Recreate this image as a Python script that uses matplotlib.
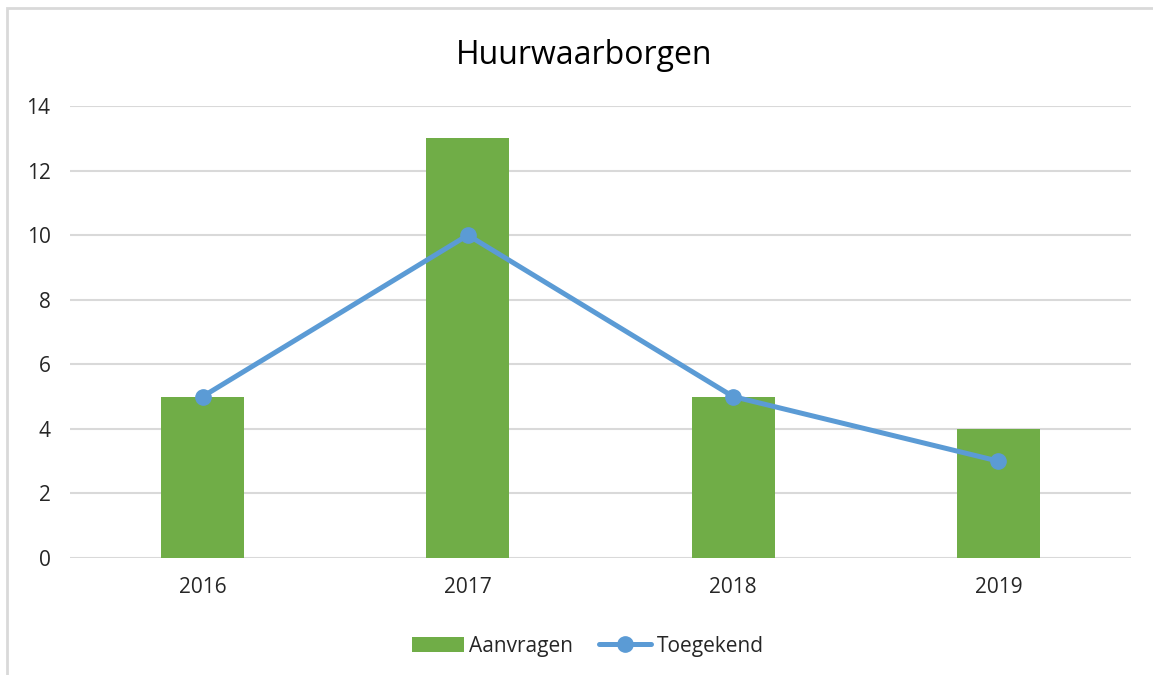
import matplotlib
matplotlib.use("Agg")
import matplotlib.pyplot as plt
from matplotlib.patches import Rectangle

plt.rcParams['font.family'] = ['Open Sans', 'DejaVu Sans']

years = ["2016", "2017", "2018", "2019"]
aanvragen = [5, 13, 5, 4]
toegekend = [5, 10, 5, 3]
yticks = [0, 2, 4, 6, 8, 10, 12, 14]

fig = plt.figure(figsize=(11.53, 6.75), dpi=100)
ax = fig.add_axes([70/1153, 117/675, (1131-70)/1153, 452/675])

x = list(range(len(years)))
bars = ax.bar(x, aanvragen, width=0.313, color="#70AD47", label="Aanvragen", zorder=2)
line, = ax.plot(x, toegekend, color="#5B9BD5", lw=3.6, marker="o", markersize=11,
                label="Toegekend", zorder=3, solid_capstyle="round")

ax.set_xlim(-0.5, len(years) - 0.5)
ax.set_ylim(0, 14)
ax.set_yticks(yticks)
ax.set_xticks(x)
ax.set_xticklabels(years)
ax.grid(axis="y", color="#D9D9D9", lw=1.5, zorder=0)
for s in ax.spines.values():
    s.set_visible(False)
ax.tick_params(axis="both", length=0, labelsize=15, colors="#262626")
ax.tick_params(axis="y", pad=14)
ax.tick_params(axis="x", pad=14)

fig.text(584/1153, 1 - 55/675, "Huurwaarborgen", fontsize=23, color="#000000",
         ha="center", va="center")

leg = ax.legend([bars, line], ["Aanvragen", "Toegekend"],
                loc="upper center", bbox_to_anchor=(0.488, -0.13), ncol=2,
                frameon=False, fontsize=15, handlelength=2.5, handletextpad=0.25,
                columnspacing=1.25)
for t in leg.get_texts():
    t.set_color("#262626")

# chart border (left and top visible)
fig.add_artist(Rectangle((7/1153, -0.1), 1.2, (675-8)/675 + 0.1, transform=fig.transFigure,
                         fill=False, edgecolor="#D9D9D9", lw=2))

fig.savefig("out.png", dpi=100, facecolor="white")
